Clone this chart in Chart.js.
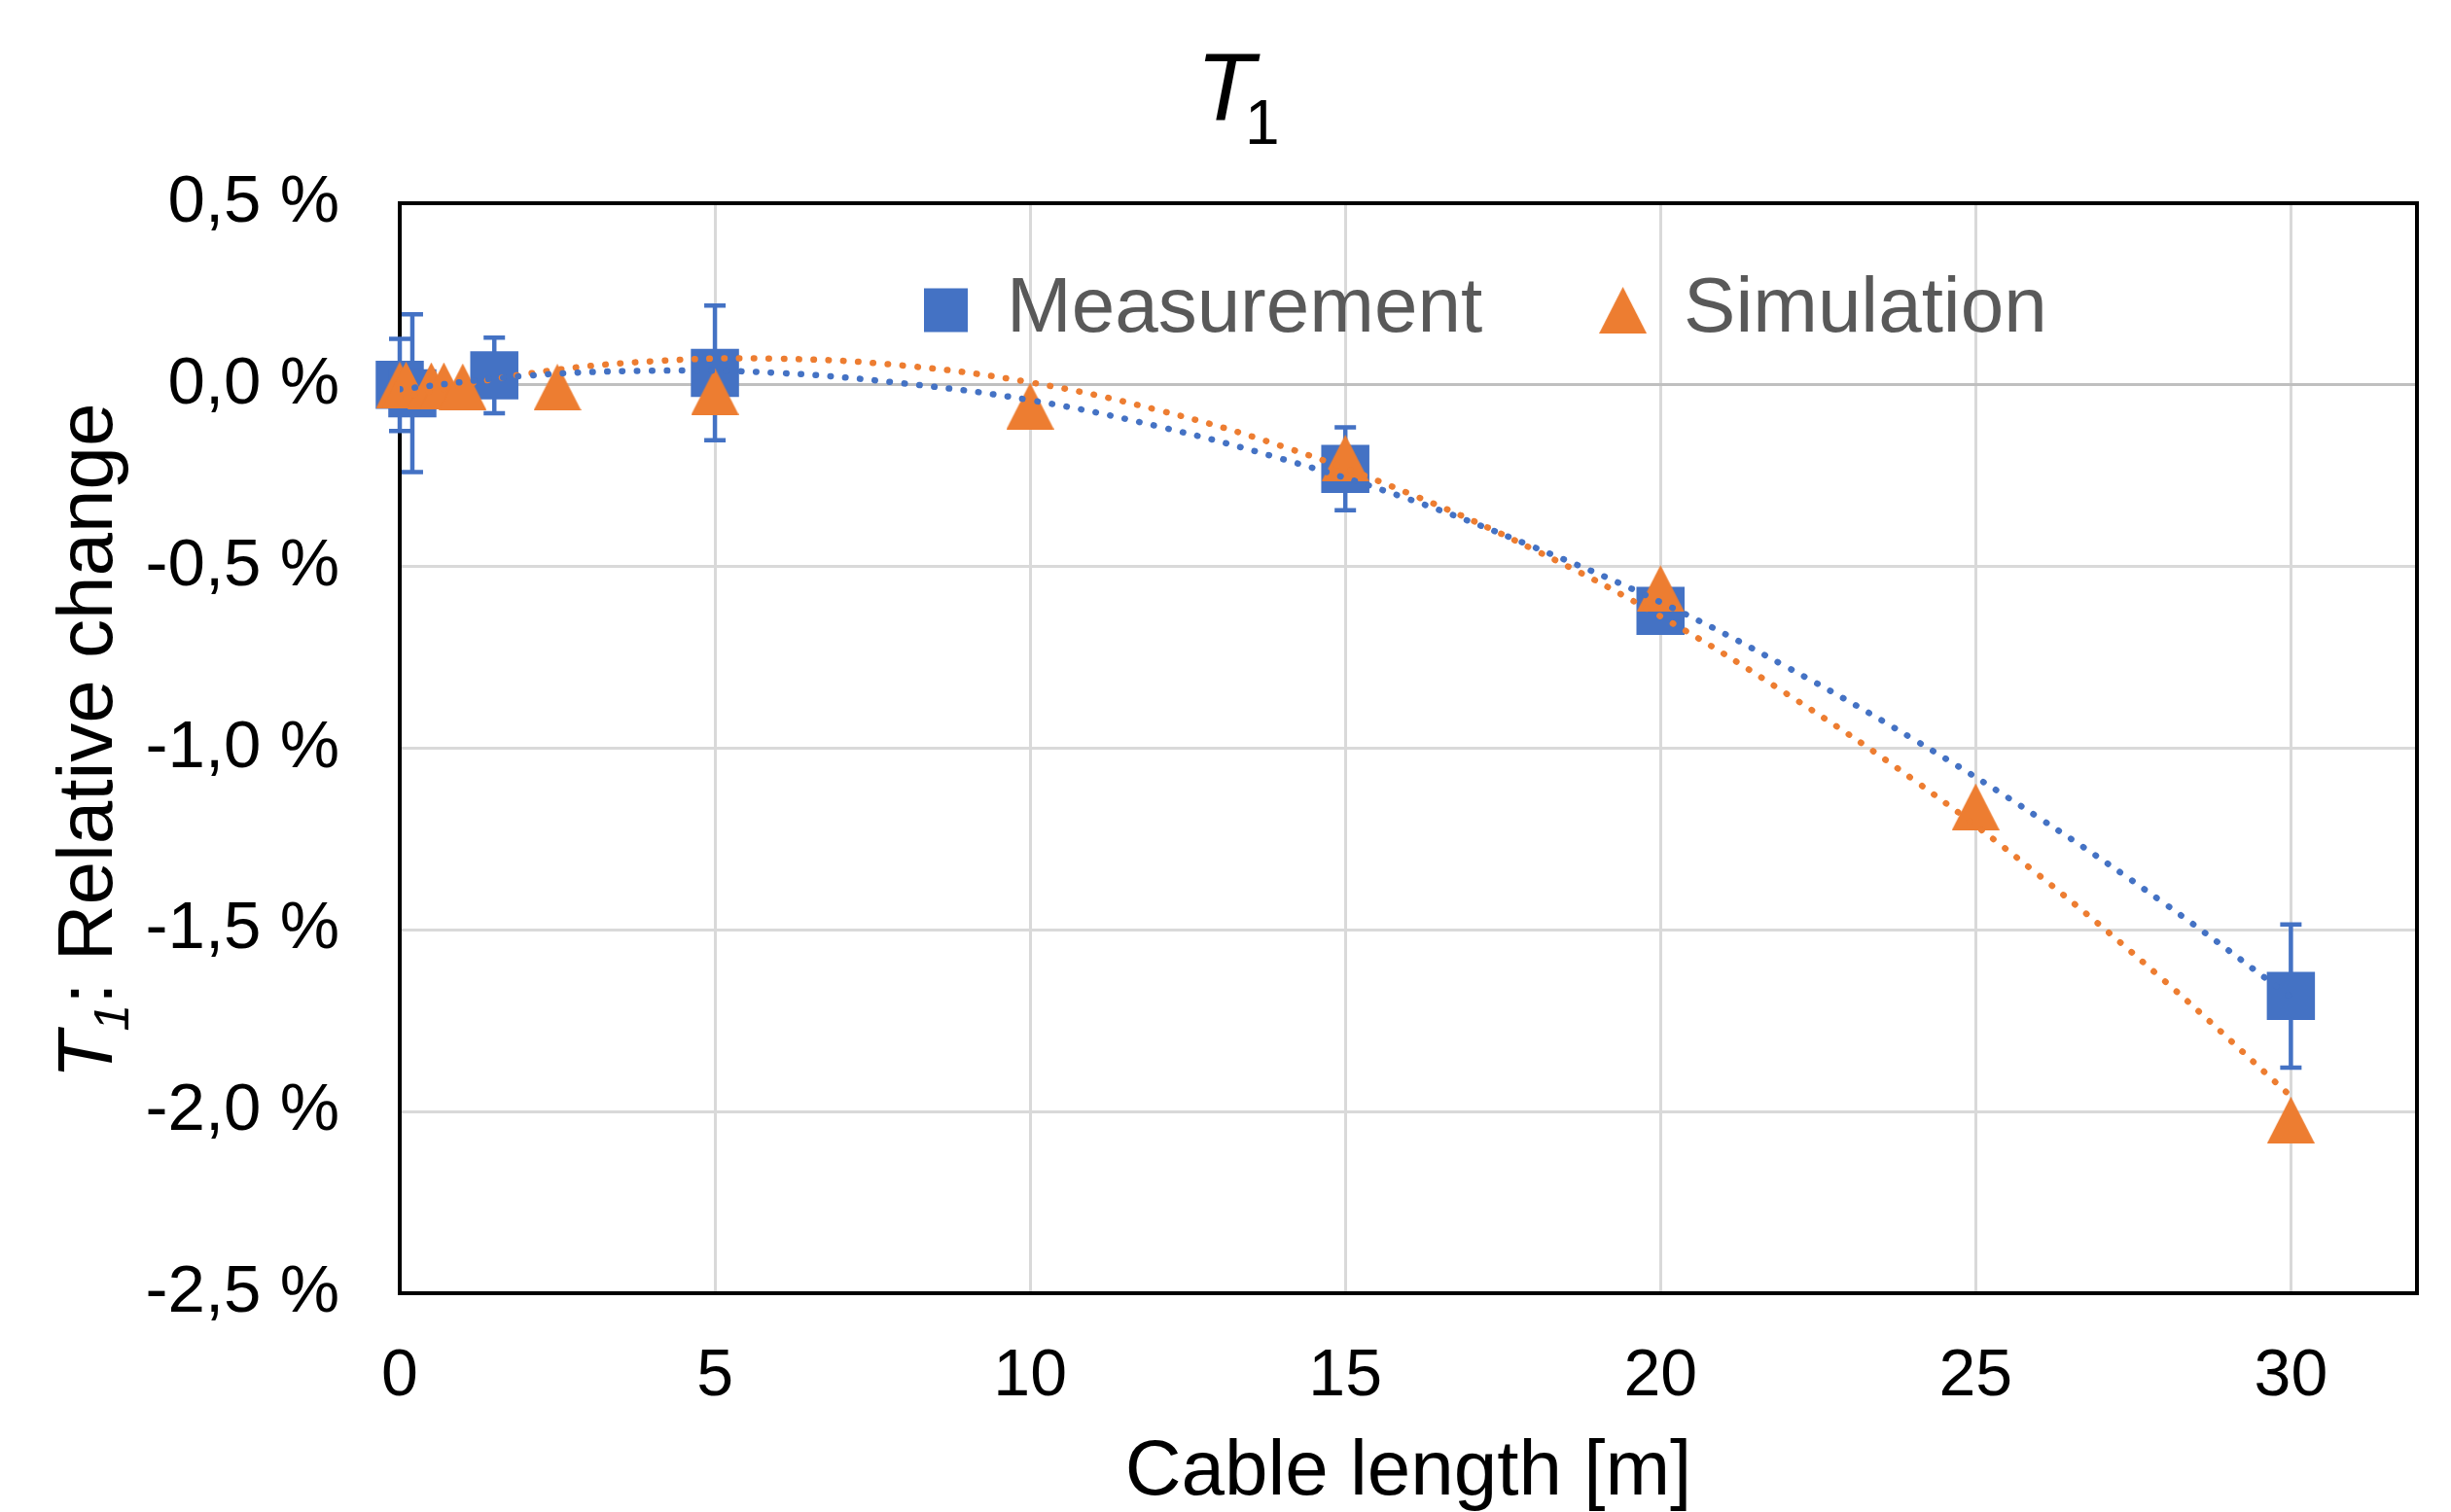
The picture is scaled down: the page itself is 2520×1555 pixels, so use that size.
<!DOCTYPE html>
<html>
<head>
<meta charset="utf-8">
<script src="https://cdn.jsdelivr.net/npm/chart.js@4.4.1/dist/chart.umd.min.js"></script>
<style>
  html, body { margin: 0; padding: 0; background: #fff; }
  #wrap { width: 2520px; height: 1555px; }
</style>
</head>
<body>
<div id="wrap"><canvas id="grafico"></canvas></div>
<script>
// medições (quadrados) com barras de erro
const measX = [0, 0.2, 1.5, 5, 15, 20, 30];
const measY = [0.0, -0.023, 0.026, 0.033, -0.231, -0.622, -1.682];
const measErr = [0.127, 0.217, 0.104, 0.185, 0.114, 0.05, 0.197];

// simulação (triângulos)
const simX = [0, 0.1, 0.5, 0.7, 1, 2.5, 5, 10, 15, 20, 25, 30];
const simY = [0, 0, -0.002, -0.002, -0.005, -0.006, -0.018, -0.058, -0.201, -0.56, -1.161, -2.023];

// linhas de tendência
const trendX = [0, 2, 4, 6, 8, 10, 12, 14, 16, 18, 20, 22, 24, 26, 28, 30];
const measTrendY = [-0.012, 0.025, 0.039, 0.033, 0.004, -0.042, -0.113, -0.204, -0.314, -0.447, -0.598, -0.776, -0.974, -1.191, -1.428, -1.685];
const simTrendY = [-0.035, 0.03, 0.065, 0.072, 0.053, 0.007, -0.068, -0.169, -0.298, -0.454, -0.637, -0.85, -1.085, -1.349, -1.641, -1.958];

const xTicks = [0, 5, 10, 15, 20, 25, 30];

const FONT = '"Liberation Sans", Arial, sans-serif';
const AZUL = '#4472C4';
const LARANJA = '#ED7D31';

function pontos(xs, ys) {
  return xs.map((x, i) => ({ x, y: ys[i] }));
}

function fmtPct(v) {
  const r = Math.round(v * 10) / 10;
  return (r === 0 ? 0 : r).toFixed(1).replace('.', ',') + ' %';
}

// triângulo estilo Excel (centro da caixa no ponto)
function triangulo(w, h, cor) {
  const c = document.createElement('canvas');
  c.width = w; c.height = h;
  const g = c.getContext('2d');
  g.fillStyle = cor;
  g.beginPath();
  g.moveTo(w / 2, 0);
  g.lineTo(w, h);
  g.lineTo(0, h);
  g.closePath();
  g.fill();
  return c;
}
const triImg = triangulo(49, 48, LARANJA);

const molduraErros = {
  id: 'molduraErros',
  beforeDatasetsDraw(chart) {
    const { ctx, chartArea: a, scales: { x, y } } = chart;
    ctx.save();
    ctx.strokeStyle = '#000';
    ctx.lineWidth = 4;
    ctx.strokeRect(a.left, a.top, a.right - a.left, a.bottom - a.top);

    ctx.strokeStyle = AZUL;
    ctx.lineWidth = 4.5;
    measX.forEach((v, i) => {
      const px = x.getPixelForValue(v);
      const y1 = y.getPixelForValue(measY[i] + measErr[i]);
      const y2 = y.getPixelForValue(measY[i] - measErr[i]);
      ctx.beginPath();
      ctx.moveTo(px, y1); ctx.lineTo(px, y2);
      ctx.moveTo(px - 11, y1); ctx.lineTo(px + 11, y1);
      ctx.moveTo(px - 11, y2); ctx.lineTo(px + 11, y2);
      ctx.stroke();
    });
    ctx.restore();
  }
};

const titulos = {
  id: 'titulos',
  afterUpdate(chart) {
    // legenda (posição top) deslocada para dentro da área do gráfico
    const lg = chart.legend;
    if (!lg) return;
    const pad = lg.options.labels.padding;
    const left = 950 - pad, top = 279 - pad;
    lg.left = left; lg.right = left + 2000;
    lg.top = top; lg.bottom = top + 400;
  },
  afterDraw(chart) {
    const ctx = chart.ctx;
    ctx.save();
    ctx.fillStyle = '#000';
    ctx.textBaseline = 'alphabetic';
    ctx.textAlign = 'left';

    // título T1
    ctx.font = 'italic 98px ' + FONT;
    ctx.fillText('T', 1230, 123);
    ctx.font = '64px ' + FONT;
    ctx.fillText('1', 1280, 148);

    // título do eixo y
    ctx.translate(115, 762);
    ctx.rotate(-Math.PI / 2);
    ctx.font = 'italic 80px ' + FONT;
    const wT = ctx.measureText('T').width;
    ctx.font = 'italic 50px ' + FONT;
    const w1 = ctx.measureText('1').width;
    ctx.font = '80px ' + FONT;
    const resto = ': Relative change';
    const wR = ctx.measureText(resto).width;
    let x0 = -(wT + w1 + wR) / 2;
    ctx.font = 'italic 80px ' + FONT;
    ctx.fillText('T', x0, 0);
    ctx.font = 'italic 50px ' + FONT;
    ctx.fillText('1', x0 + wT, 17);
    ctx.font = '80px ' + FONT;
    ctx.fillText(resto, x0 + wT + w1, 0);
    ctx.restore();
  }
};

const chart = new Chart(document.getElementById('grafico'), {
  type: 'scatter',
  data: {
    datasets: [
      {
        label: 'Measurement',
        data: pontos(measX, measY),
        pointStyle: 'rect',
        pointRadius: 35,
        backgroundColor: AZUL,
        borderColor: AZUL,
        borderWidth: 0,
        clip: false,
        order: 2
      },
      {
        label: 'Simulation',
        data: pontos(simX, simY),
        pointStyle: triImg,
        pointRadius: 25,
        backgroundColor: LARANJA,
        borderColor: LARANJA,
        borderWidth: 0,
        clip: false,
        order: 1
      },
      {
        label: 'trend measurement',
        data: pontos(trendX, measTrendY),
        showLine: true,
        pointRadius: 0,
        borderColor: AZUL,
        borderWidth: 6.5,
        borderDash: [0.5, 14.8],
        borderCapStyle: 'round',
        tension: 0.4,
        order: 0
      },
      {
        label: 'trend simulation',
        data: pontos(trendX, simTrendY),
        showLine: true,
        pointRadius: 0,
        borderColor: LARANJA,
        borderWidth: 6.5,
        borderDash: [0.5, 14.8],
        borderCapStyle: 'round',
        tension: 0.4,
        order: 0
      }
    ]
  },
  options: {
    responsive: true,
    maintainAspectRatio: false,
    animation: false,
    events: [],
    layout: { padding: { top: 59, right: 32, bottom: 0, left: 0 } },
    plugins: {
      tooltip: { enabled: false },
      title: { display: false },
      legend: {
        position: 'top',
        align: 'start',
        maxHeight: 150,
        labels: {
          usePointStyle: true,
          boxWidth: 45,
          boxHeight: 45,
          padding: 122,
          color: '#595959',
          font: { family: FONT, size: 80 },
          filter: item => item.datasetIndex < 2,
          sort: (a, b) => a.datasetIndex - b.datasetIndex
        }
      }
    },
    scales: {
      x: {
        type: 'linear',
        min: 0,
        max: 32,
        afterBuildTicks: s => { s.ticks = xTicks.map(v => ({ value: v })); },
        afterFit: s => { s.height = 1555 - 1330; },
        title: {
          display: true,
          text: 'Cable length [m]',
          color: '#000',
          font: { family: FONT, size: 80, lineHeight: 1 },
          padding: { top: 0, bottom: 0 }
        },
        ticks: {
          stepSize: 5,
          padding: 45,
          maxRotation: 0,
          color: '#000',
          font: { family: FONT, size: 68 }
        },
        grid: { color: '#d9d9d9', lineWidth: 3, drawTicks: false },
        border: { display: false }
      },
      y: {
        min: -2.5,
        max: 0.5,
        afterFit: s => { s.width = 411; },
        ticks: {
          stepSize: 0.5,
          padding: 62,
          color: '#000',
          font: { family: FONT, size: 69 },
          callback: v => fmtPct(v)
        },
        grid: {
          color: c => (c.tick && Math.abs(c.tick.value) < 1e-9 ? '#bfbfbf' : '#d9d9d9'),
          lineWidth: 3,
          drawTicks: false
        },
        border: { display: false }
      }
    }
  },
  plugins: [molduraErros, titulos]
});
</script>
</body>
</html>
